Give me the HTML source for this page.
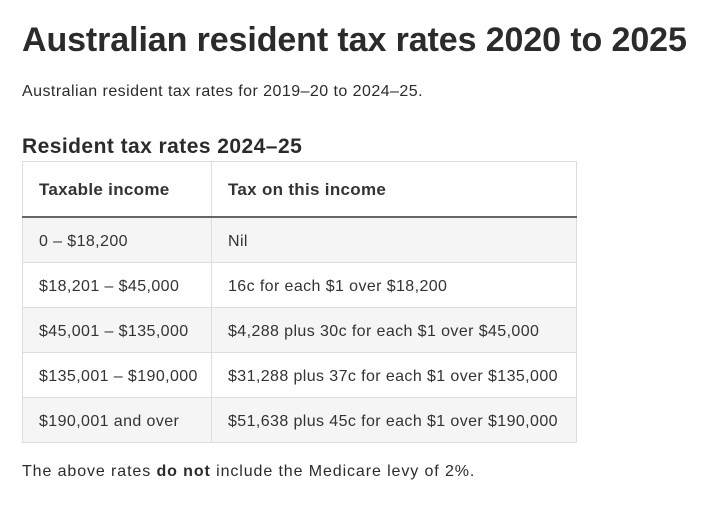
<!DOCTYPE html>
<html><head><style>
body{margin:0;width:721px;height:506px;background:#fff;font-family:"Liberation Sans",sans-serif;color:#2b2b2b;position:relative;overflow:hidden}
.a{position:absolute;white-space:nowrap}
h1{position:absolute;left:22px;top:21px;margin:0;font-size:34px;font-weight:bold;letter-spacing:-0.1px}
table{position:absolute;left:22px;top:161px;border-collapse:collapse;font-size:16px;color:#333;letter-spacing:0.4px;table-layout:fixed;width:554px;white-space:nowrap}
td,th{border:1px solid #ddd;padding:4px 0 0 16px;text-align:left;height:40px;overflow:visible}
th{height:50px;font-weight:bold;border-bottom:2px solid #666;font-size:17px;letter-spacing:0.3px;padding-top:2px;height:52px}
tr.g td{background:#f5f5f5}
</style></head><body>
<h1>Australian resident tax rates 2020 to 2025</h1>
<div class="a" style="left:22px;top:83px;font-size:16px;letter-spacing:0.45px">Australian resident tax rates for 2019–20 to 2024–25.</div>
<div class="a" style="left:22px;top:135px;font-size:21px;font-weight:bold;letter-spacing:0.45px">Resident tax rates 2024–25</div>
<table>
<colgroup><col style="width:189px"><col style="width:365px"></colgroup>
<tr><th>Taxable income</th><th>Tax on this income</th></tr>
<tr class="g"><td>0 – $18,200</td><td>Nil</td></tr>
<tr><td>$18,201 – $45,000</td><td>16c for each $1 over $18,200</td></tr>
<tr class="g"><td>$45,001 – $135,000</td><td>$4,288 plus 30c for each $1 over $45,000</td></tr>
<tr><td>$135,001 – $190,000</td><td>$31,288 plus 37c for each $1 over $135,000</td></tr>
<tr class="g"><td>$190,001 and over</td><td>$51,638 plus 45c for each $1 over $190,000</td></tr>
</table>
<div class="a" style="left:22px;top:463px;font-size:16px;letter-spacing:0.9px">The above rates <b>do not</b> include the Medicare levy of 2%.</div>
</body></html>
